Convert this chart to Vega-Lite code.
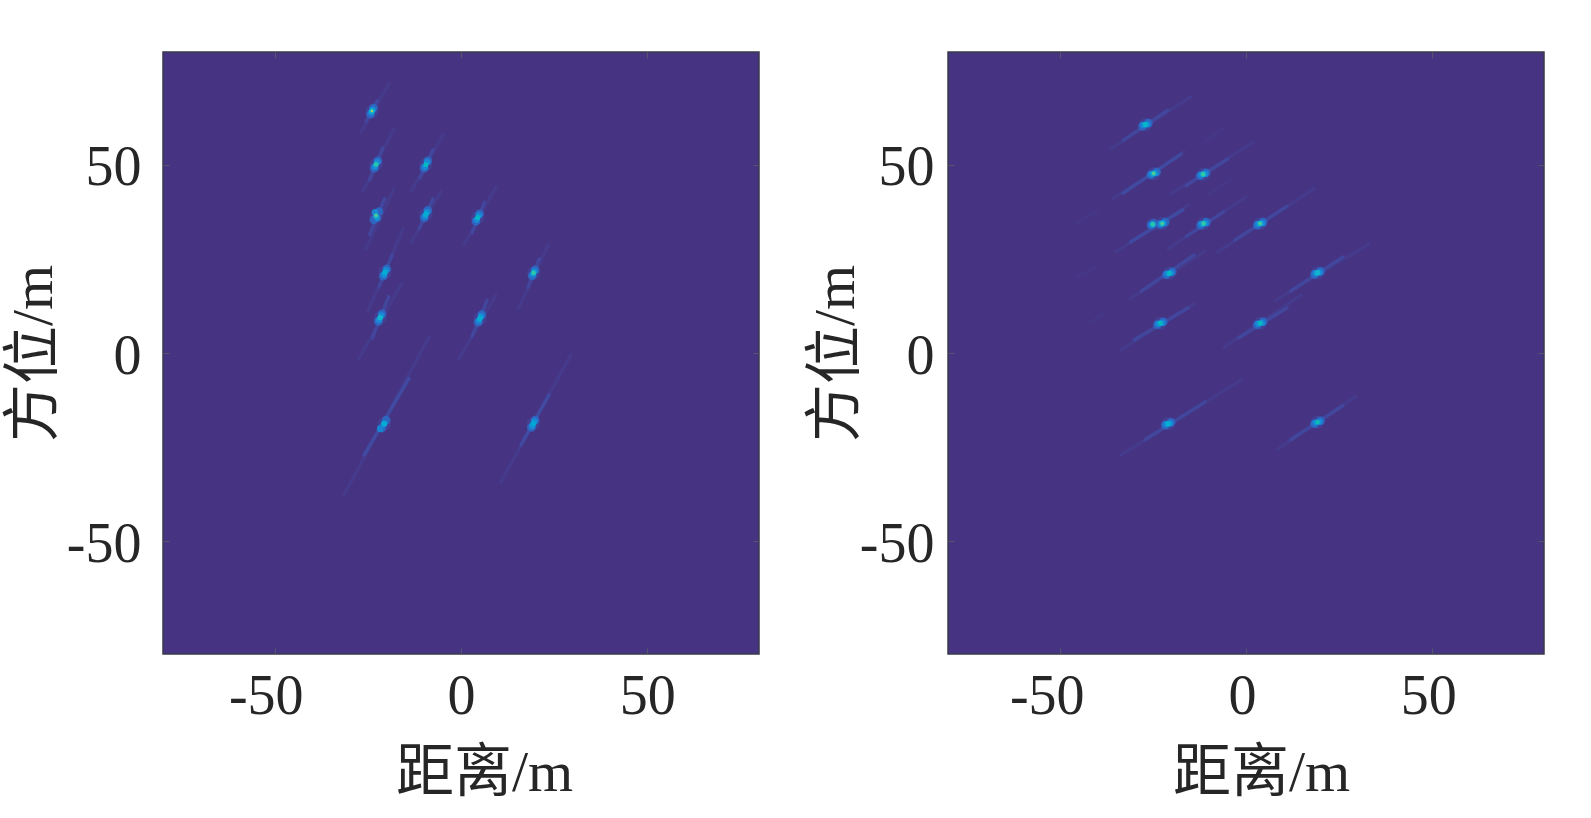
{
  "$schema": "https://vega.github.io/schema/vega-lite/v6.json",
  "background": "white",
  "padding": {"left": 4, "top": 50, "right": 48, "bottom": 10},
  "bounds": "flush",
  "spacing": 189,
  "config": {
    "font": "Liberation Serif, Noto Sans CJK SC",
    "view": {"fill": "#463482", "stroke": "#3a3a4a", "strokeWidth": 1.5},
    "axis": {
      "grid": false, "domain": false,
      "tickSize": -6, "tickColor": "#55556a", "tickWidth": 1,
      "labelFont": "Liberation Serif", "labelFontSize": 56, "labelColor": "#262626",
      "labelExpr": "datum.value + ''",
      "titleFont": "Liberation Serif, Noto Sans CJK SC", "titleFontSize": 58, "titleColor": "#262626", "titleFontWeight": "normal"
    },
    "axisBottom": {"labelPadding": 21, "titlePadding": 20},
    "axisLeft": {"labelPadding": 28, "labelOffset": 3}
  },
  "datasets": {
    "left_streaks": [
      {"x": -26.8, "y": 58.8, "x2": -19.3, "y2": 71.6, "v": 0.05},
      {"x": -25.5, "y": 61.5, "x2": -22.5, "y2": 67, "v": 0.09},
      {"x": -26.3, "y": 42.9, "x2": -18, "y2": 59.6, "v": 0.05},
      {"x": -24.5, "y": 46, "x2": -21, "y2": 54.5, "v": 0.09},
      {"x": -13.4, "y": 42.9, "x2": -4.8, "y2": 58, "v": 0.05},
      {"x": -11, "y": 46.5, "x2": -7.5, "y2": 54, "v": 0.09},
      {"x": -25.5, "y": 27.7, "x2": -18, "y2": 43.7, "v": 0.05},
      {"x": -24.5, "y": 31.5, "x2": -20.5, "y2": 41, "v": 0.09},
      {"x": -13.4, "y": 29.5, "x2": -5.4, "y2": 42.9, "v": 0.05},
      {"x": -11.2, "y": 33, "x2": -7.5, "y2": 41, "v": 0.09},
      {"x": 0.8, "y": 28.8, "x2": 9.4, "y2": 44.2, "v": 0.05},
      {"x": 3, "y": 32, "x2": 6.3, "y2": 40, "v": 0.09},
      {"x": -25, "y": 11, "x2": -15.5, "y2": 33, "v": 0.05},
      {"x": -22, "y": 17.5, "x2": -18.5, "y2": 26, "v": 0.09},
      {"x": 15.5, "y": 12, "x2": 23.4, "y2": 28.8, "v": 0.05},
      {"x": 18, "y": 17.5, "x2": 21, "y2": 25, "v": 0.09},
      {"x": -27.4, "y": -1.5, "x2": -16, "y2": 18.3, "v": 0.05},
      {"x": -23.8, "y": 4, "x2": -19.4, "y2": 15, "v": 0.09},
      {"x": -0.5, "y": -1.5, "x2": 9.4, "y2": 15.4, "v": 0.05},
      {"x": 3, "y": 4.5, "x2": 7, "y2": 14, "v": 0.09},
      {"x": -31.4, "y": -37.7, "x2": -8.6, "y2": 4.3, "v": 0.05},
      {"x": -26, "y": -27.1, "x2": -14, "y2": -6.8, "v": 0.1},
      {"x": 10.7, "y": -34.3, "x2": 29.5, "y2": -0.5, "v": 0.05},
      {"x": 16.1, "y": -24.4, "x2": 23.6, "y2": -11.2, "v": 0.1}
    ],
    "left_peaks": [
      {"x": -23.9, "y": 64.3, "v": 0.08}, {"x": -24.3, "y": 63.5, "v": 0.15}, {"x": -23.5, "y": 65.1, "v": 0.15}, {"x": -24.1, "y": 63.9, "v": 0.3}, {"x": -23.7, "y": 64.7, "v": 0.3}, {"x": -23.9, "y": 64.3, "v": 0.45}, {"x": -23.9, "y": 64.3, "v": 0.85},
      {"x": -22.8, "y": 50.1, "v": 0.08}, {"x": -23.3, "y": 49.1, "v": 0.15}, {"x": -22.3, "y": 51.1, "v": 0.15}, {"x": -23.1, "y": 49.5, "v": 0.3}, {"x": -22.5, "y": 50.7, "v": 0.3}, {"x": -22.8, "y": 50.1, "v": 0.45}, {"x": -22.8, "y": 50.1, "v": 0.6},
      {"x": -9.4, "y": 50.1, "v": 0.08}, {"x": -9.9, "y": 49.1, "v": 0.15}, {"x": -8.9, "y": 51.1, "v": 0.15}, {"x": -9.7, "y": 49.5, "v": 0.3}, {"x": -9.1, "y": 50.7, "v": 0.3}, {"x": -9.4, "y": 50.1, "v": 0.5},
      {"x": -22.8, "y": 36.4, "v": 0.08}, {"x": -23.4, "y": 35.4, "v": 0.15}, {"x": -22, "y": 37.6, "v": 0.15}, {"x": -23.1, "y": 37.4, "v": 0.3}, {"x": -22.4, "y": 35.8, "v": 0.3}, {"x": -22.8, "y": 36.4, "v": 0.45}, {"x": -22.8, "y": 36.6, "v": 0.68},
      {"x": -9.4, "y": 36.9, "v": 0.08}, {"x": -9.9, "y": 35.9, "v": 0.15}, {"x": -8.9, "y": 37.9, "v": 0.15}, {"x": -9.7, "y": 36.3, "v": 0.3}, {"x": -9.1, "y": 37.5, "v": 0.3}, {"x": -9.4, "y": 36.9, "v": 0.42},
      {"x": 4.5, "y": 36, "v": 0.08}, {"x": 4, "y": 35, "v": 0.15}, {"x": 5, "y": 37, "v": 0.15}, {"x": 4.2, "y": 35.4, "v": 0.3}, {"x": 4.8, "y": 36.6, "v": 0.3}, {"x": 4.5, "y": 36, "v": 0.48},
      {"x": -20.4, "y": 21.4, "v": 0.08}, {"x": -20.9, "y": 20.4, "v": 0.15}, {"x": -19.9, "y": 22.4, "v": 0.15}, {"x": -20.7, "y": 20.8, "v": 0.3}, {"x": -20.1, "y": 22, "v": 0.3}, {"x": -20.4, "y": 21.4, "v": 0.4},
      {"x": 19.5, "y": 21.3, "v": 0.08}, {"x": 19.1, "y": 20.5, "v": 0.15}, {"x": 19.9, "y": 22.1, "v": 0.15}, {"x": 19.3, "y": 20.9, "v": 0.3}, {"x": 19.7, "y": 21.7, "v": 0.3}, {"x": 19.5, "y": 21.3, "v": 0.45}, {"x": 19.5, "y": 21.3, "v": 0.62},
      {"x": -21.7, "y": 9.4, "v": 0.08}, {"x": -22.2, "y": 8.4, "v": 0.15}, {"x": -21.2, "y": 10.4, "v": 0.15}, {"x": -22, "y": 8.8, "v": 0.3}, {"x": -21.4, "y": 10, "v": 0.3}, {"x": -21.7, "y": 9.4, "v": 0.45},
      {"x": 5.1, "y": 9.2, "v": 0.08}, {"x": 4.6, "y": 8.2, "v": 0.15}, {"x": 5.6, "y": 10.2, "v": 0.15}, {"x": 4.8, "y": 8.6, "v": 0.3}, {"x": 5.4, "y": 9.8, "v": 0.3}, {"x": 5.1, "y": 9.2, "v": 0.42},
      {"x": -20.6, "y": -18.8, "v": 0.08}, {"x": -21.3, "y": -20, "v": 0.15}, {"x": -20.1, "y": -17.8, "v": 0.15}, {"x": -21.7, "y": -20.1, "v": 0.28}, {"x": -20.6, "y": -18.8, "v": 0.3}, {"x": -20.6, "y": -18.8, "v": 0.4},
      {"x": 19.4, "y": -18.8, "v": 0.08}, {"x": 18.9, "y": -19.8, "v": 0.15}, {"x": 19.9, "y": -17.8, "v": 0.15}, {"x": 19.1, "y": -19.4, "v": 0.3}, {"x": 19.7, "y": -18.2, "v": 0.3}, {"x": 19.4, "y": -18.8, "v": 0.38}
    ],
    "right_streaks": [
      {"x": -36.2, "y": 54.3, "x2": -14.8, "y2": 68.1, "v": 0.05},
      {"x": -33, "y": 56.5, "x2": -21, "y2": 64.5, "v": 0.09},
      {"x": -35.7, "y": 41, "x2": -16.6, "y2": 53.5, "v": 0.05},
      {"x": -33, "y": 42.5, "x2": -17.5, "y2": 52.8, "v": 0.1},
      {"x": -20.1, "y": 42.3, "x2": 1.9, "y2": 56, "v": 0.05},
      {"x": -16, "y": 44.5, "x2": -5, "y2": 51.5, "v": 0.09},
      {"x": -34.9, "y": 26.9, "x2": -15.3, "y2": 39.4, "v": 0.05},
      {"x": -31, "y": 29.5, "x2": -17, "y2": 38, "v": 0.1},
      {"x": -20.9, "y": 27.7, "x2": 0, "y2": 41.5, "v": 0.05},
      {"x": -16, "y": 31, "x2": -6, "y2": 37.5, "v": 0.09},
      {"x": -7.5, "y": 26.9, "x2": 18.3, "y2": 43.7, "v": 0.05},
      {"x": -3, "y": 30, "x2": 11, "y2": 39, "v": 0.09},
      {"x": -11.3, "y": 56, "x2": -5.9, "y2": 60, "v": 0.04},
      {"x": -45.6, "y": 34.3, "x2": -39.7, "y2": 38, "v": 0.04},
      {"x": -45.6, "y": 20.2, "x2": -40.3, "y2": 22.9, "v": 0.04},
      {"x": -10.2, "y": 42, "x2": -4, "y2": 46.3, "v": 0.04},
      {"x": -41.6, "y": 8.3, "x2": -38.1, "y2": 10.4, "v": 0.04},
      {"x": -31, "y": 14.5, "x2": -11, "y2": 27, "v": 0.05},
      {"x": -28, "y": 16.5, "x2": -14, "y2": 26, "v": 0.09},
      {"x": 8, "y": 14, "x2": 33, "y2": 29, "v": 0.05},
      {"x": 12, "y": 16.5, "x2": 26, "y2": 25.5, "v": 0.09},
      {"x": -33.6, "y": 0.8, "x2": -14, "y2": 13, "v": 0.05},
      {"x": -30, "y": 3.5, "x2": -15.5, "y2": 12, "v": 0.09},
      {"x": -5.9, "y": 1.6, "x2": 14.8, "y2": 15.4, "v": 0.05},
      {"x": -2, "y": 4, "x2": 11, "y2": 12, "v": 0.09},
      {"x": -33.6, "y": -27.1, "x2": -1.3, "y2": -7.2, "v": 0.05},
      {"x": -27, "y": -23, "x2": -11, "y2": -13, "v": 0.09},
      {"x": 8.6, "y": -25.5, "x2": 29.5, "y2": -11.5, "v": 0.05},
      {"x": 12, "y": -23, "x2": 26, "y2": -14, "v": 0.09}
    ],
    "right_peaks": [
      {"x": -27, "y": 60.7, "v": 0.08}, {"x": -27.8, "y": 60.3, "v": 0.15}, {"x": -26.2, "y": 61.1, "v": 0.15}, {"x": -27.5, "y": 60.6, "v": 0.3}, {"x": -26.5, "y": 60.8, "v": 0.3}, {"x": -27, "y": 60.7, "v": 0.48},
      {"x": -24.8, "y": 47.7, "v": 0.08}, {"x": -25.6, "y": 47.3, "v": 0.15}, {"x": -24, "y": 48.1, "v": 0.15}, {"x": -25.3, "y": 47.6, "v": 0.3}, {"x": -24.3, "y": 47.8, "v": 0.3}, {"x": -24.8, "y": 47.7, "v": 0.45}, {"x": -24.8, "y": 47.7, "v": 0.72},
      {"x": -11.5, "y": 47.5, "v": 0.08}, {"x": -12.3, "y": 47.1, "v": 0.15}, {"x": -10.7, "y": 47.9, "v": 0.15}, {"x": -12, "y": 47.4, "v": 0.3}, {"x": -11, "y": 47.6, "v": 0.3}, {"x": -11.5, "y": 47.5, "v": 0.45}, {"x": -11.5, "y": 47.5, "v": 0.62},
      {"x": -25, "y": 34.2, "v": 0.08}, {"x": -25.5, "y": 34, "v": 0.15}, {"x": -24.8, "y": 34.4, "v": 0.15}, {"x": -25.2, "y": 34.1, "v": 0.3}, {"x": -25, "y": 34.2, "v": 0.45}, {"x": -25, "y": 34.2, "v": 0.6},
      {"x": -22.5, "y": 34.4, "v": 0.08}, {"x": -23, "y": 34.2, "v": 0.15}, {"x": -21.7, "y": 34.8, "v": 0.15}, {"x": -22.8, "y": 34.3, "v": 0.3}, {"x": -22.2, "y": 34.5, "v": 0.3}, {"x": -22.5, "y": 34.4, "v": 0.45}, {"x": -22.5, "y": 34.4, "v": 0.68},
      {"x": -11.4, "y": 34.4, "v": 0.08}, {"x": -12.2, "y": 34, "v": 0.15}, {"x": -10.6, "y": 34.8, "v": 0.15}, {"x": -11.9, "y": 34.3, "v": 0.3}, {"x": -10.9, "y": 34.5, "v": 0.3}, {"x": -11.4, "y": 34.4, "v": 0.45}, {"x": -11.4, "y": 34.4, "v": 0.62},
      {"x": 3.8, "y": 34.4, "v": 0.08}, {"x": 3, "y": 34, "v": 0.15}, {"x": 4.6, "y": 34.8, "v": 0.15}, {"x": 3.3, "y": 34.3, "v": 0.3}, {"x": 4.3, "y": 34.5, "v": 0.3}, {"x": 3.8, "y": 34.4, "v": 0.45}, {"x": 3.8, "y": 34.4, "v": 0.66},
      {"x": -20.6, "y": 21.2, "v": 0.08}, {"x": -21.4, "y": 20.8, "v": 0.15}, {"x": -19.8, "y": 21.6, "v": 0.15}, {"x": -21.1, "y": 21.1, "v": 0.3}, {"x": -20.1, "y": 21.3, "v": 0.3}, {"x": -20.6, "y": 21.2, "v": 0.5},
      {"x": 19.2, "y": 21.3, "v": 0.08}, {"x": 18.4, "y": 20.9, "v": 0.15}, {"x": 20, "y": 21.7, "v": 0.15}, {"x": 18.7, "y": 21.2, "v": 0.3}, {"x": 19.7, "y": 21.4, "v": 0.3}, {"x": 19.2, "y": 21.3, "v": 0.45},
      {"x": -23, "y": 7.9, "v": 0.08}, {"x": -23.8, "y": 7.5, "v": 0.15}, {"x": -22.2, "y": 8.3, "v": 0.15}, {"x": -23.5, "y": 7.8, "v": 0.3}, {"x": -22.5, "y": 8, "v": 0.3}, {"x": -23, "y": 7.9, "v": 0.52},
      {"x": 3.8, "y": 7.9, "v": 0.08}, {"x": 3, "y": 7.5, "v": 0.15}, {"x": 4.6, "y": 8.3, "v": 0.15}, {"x": 3.3, "y": 7.8, "v": 0.3}, {"x": 4.3, "y": 8, "v": 0.3}, {"x": 3.8, "y": 7.9, "v": 0.52},
      {"x": -20.9, "y": -18.8, "v": 0.08}, {"x": -21.7, "y": -19.2, "v": 0.15}, {"x": -20.1, "y": -18.4, "v": 0.15}, {"x": -21.4, "y": -18.9, "v": 0.3}, {"x": -20.4, "y": -18.7, "v": 0.3}, {"x": -20.9, "y": -18.8, "v": 0.42},
      {"x": 19.2, "y": -18.4, "v": 0.08}, {"x": 18.4, "y": -18.8, "v": 0.15}, {"x": 20, "y": -18, "v": 0.15}, {"x": 18.7, "y": -18.5, "v": 0.3}, {"x": 19.7, "y": -18.3, "v": 0.3}, {"x": 19.2, "y": -18.4, "v": 0.55}
    ]
  },
  "hconcat": [
    {
      "width": 596,
      "height": 602,
      "resolve": {"axis": {"x": "independent", "y": "independent"}},
      "layer": [
        {
          "data": {"name": "left_streaks"},
          "mark": {"type": "rule", "strokeWidth": 3.5, "strokeCap": "round"},
          "encoding": {
            "x": {"field": "x", "type": "quantitative", "scale": {"domain": [-80, 80], "nice": false}, "axis": {"orient": "top", "labels": false, "title": null, "values": [-50, 0, 50]}},
            "y": {"field": "y", "type": "quantitative", "scale": {"domain": [-80, 80], "nice": false}, "axis": {"orient": "right", "labels": false, "title": null, "values": [-50, 0, 50]}},
            "x2": {"field": "x2"},
            "y2": {"field": "y2"},
            "color": {"field": "v", "type": "quantitative", "legend": null, "scale": {"domain": [0.03, 0.12, 0.15, 0.3, 0.45, 0.6, 0.8, 1], "range": ["#463482", "#3d50aa", "#2a6cc8", "#1590d8", "#10bccc", "#30c8a0", "#a8d050", "#f9fb15"]}}
          }
        },
        {
          "data": {"name": "left_peaks"},
          "mark": {"type": "circle", "opacity": 0.85},
          "encoding": {
            "x": {"field": "x", "type": "quantitative", "scale": {"domain": [-80, 80], "nice": false}, "axis": {"title": "距离/m", "titleX": 321, "values": [-50, 0, 50], "labelOffset": {"condition": {"test": "datum.value < 0", "value": -9}, "value": 0}}},
            "y": {"field": "y", "type": "quantitative", "scale": {"domain": [-80, 80], "nice": false}, "axis": {"title": "方位/m", "titlePadding": 3, "values": [-50, 0, 50]}},
            "color": {"field": "v", "type": "quantitative", "legend": null, "scale": {"domain": [0.03, 0.12, 0.15, 0.3, 0.45, 0.6, 0.8, 1], "range": ["#463482", "#3d50aa", "#2a6cc8", "#1590d8", "#10bccc", "#30c8a0", "#a8d050", "#f9fb15"]}},
            "size": {"field": "v", "type": "quantitative", "legend": null, "scale": {"domain": [0.08, 0.15, 0.3, 0.45, 0.7, 1], "range": [170, 75, 40, 30, 9, 3]}},
            "order": {"field": "v"}
          }
        }
      ]
    },
    {
      "width": 596,
      "height": 602,
      "resolve": {"axis": {"x": "independent", "y": "independent"}},
      "layer": [
        {
          "data": {"name": "right_streaks"},
          "mark": {"type": "rule", "strokeWidth": 3.5, "strokeCap": "round"},
          "encoding": {
            "x": {"field": "x", "type": "quantitative", "scale": {"domain": [-80, 80], "nice": false}, "axis": {"orient": "top", "labels": false, "title": null, "values": [-50, 0, 50]}},
            "y": {"field": "y", "type": "quantitative", "scale": {"domain": [-80, 80], "nice": false}, "axis": {"orient": "right", "labels": false, "title": null, "values": [-50, 0, 50]}},
            "x2": {"field": "x2"},
            "y2": {"field": "y2"},
            "color": {"field": "v", "type": "quantitative", "legend": null, "scale": {"domain": [0.03, 0.12, 0.15, 0.3, 0.45, 0.6, 0.8, 1], "range": ["#463482", "#3d50aa", "#2a6cc8", "#1590d8", "#10bccc", "#30c8a0", "#a8d050", "#f9fb15"]}}
          }
        },
        {
          "data": {"name": "right_peaks"},
          "mark": {"type": "circle", "opacity": 0.85},
          "encoding": {
            "x": {"field": "x", "type": "quantitative", "scale": {"domain": [-80, 80], "nice": false}, "axis": {"title": "距离/m", "titleX": 313, "values": [-50, 0, 50], "labelOffset": {"condition": {"test": "datum.value < 0", "value": -13}, "value": -4}}},
            "y": {"field": "y", "type": "quantitative", "scale": {"domain": [-80, 80], "nice": false}, "axis": {"title": "方位/m", "labelPadding": 20, "titlePadding": -6, "values": [-50, 0, 50]}},
            "color": {"field": "v", "type": "quantitative", "legend": null, "scale": {"domain": [0.03, 0.12, 0.15, 0.3, 0.45, 0.6, 0.8, 1], "range": ["#463482", "#3d50aa", "#2a6cc8", "#1590d8", "#10bccc", "#30c8a0", "#a8d050", "#f9fb15"]}},
            "size": {"field": "v", "type": "quantitative", "legend": null, "scale": {"domain": [0.08, 0.15, 0.3, 0.45, 0.7, 1], "range": [170, 75, 40, 30, 9, 3]}},
            "order": {"field": "v"}
          }
        }
      ]
    }
  ]
}
